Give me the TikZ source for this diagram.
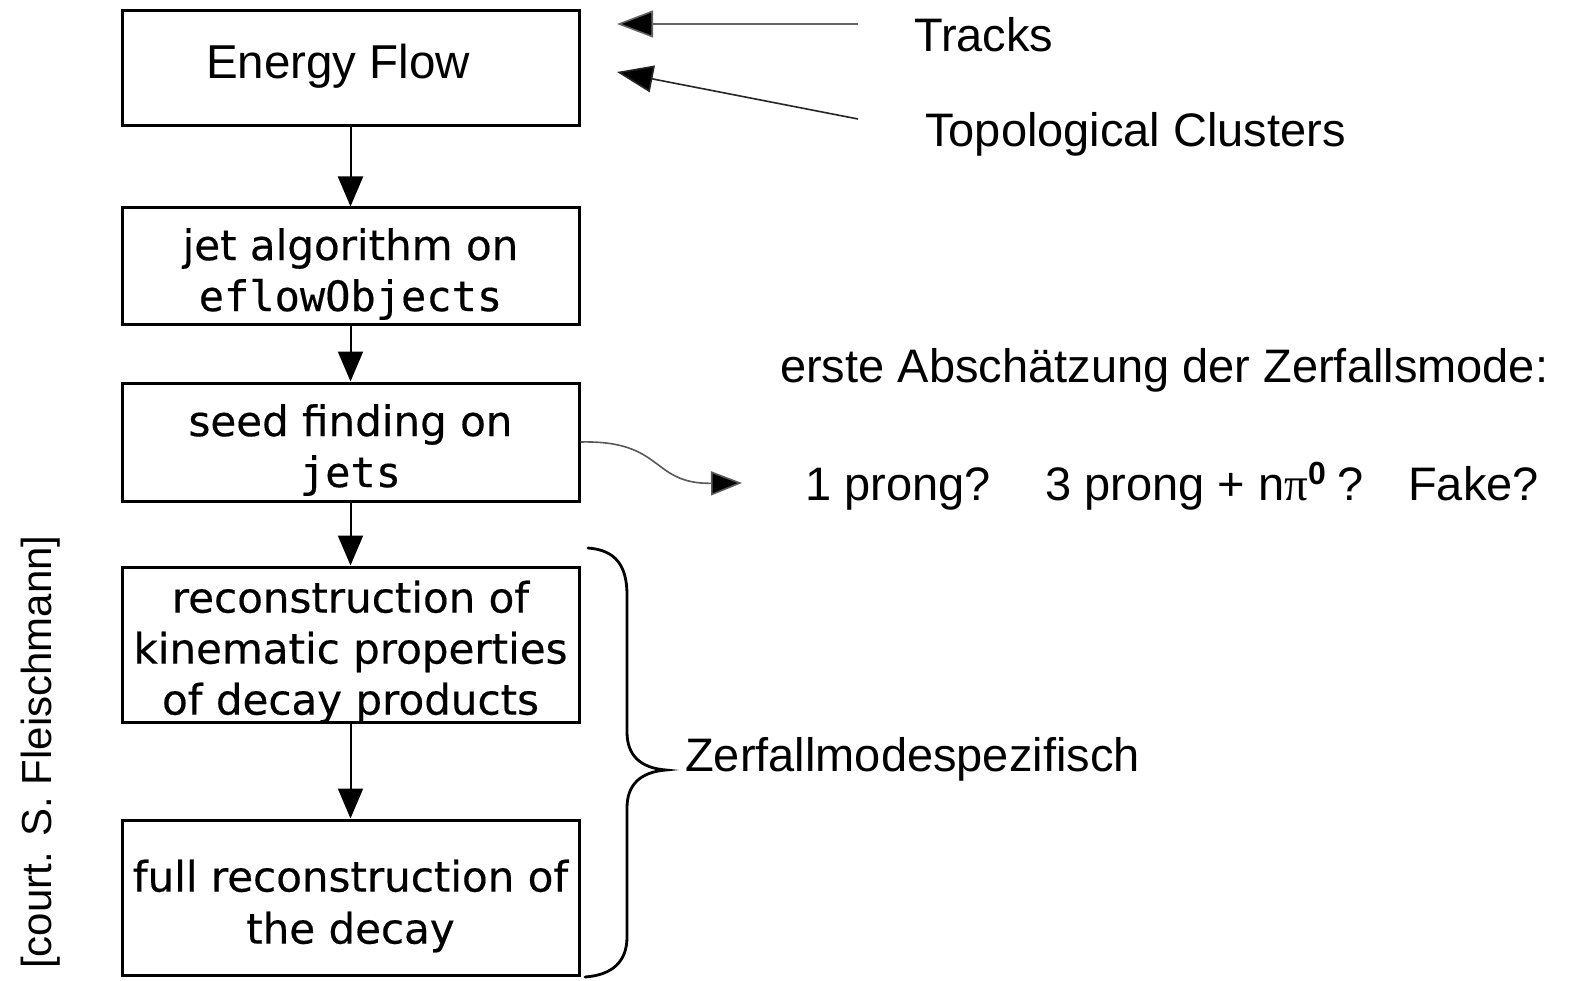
\documentclass[tikz,border=0pt]{standalone}
\usepackage{fontspec}
\setmainfont{Liberation Sans}
\newfontfamily\boxfont[FakeBold=0.4]{DejaVu Sans}
\newfontfamily\boxmono[FakeBold=0.4]{DejaVu Sans Mono}
\newfontfamily\serifpi{Liberation Serif}
\usetikzlibrary{arrows.meta}
\begin{document}
\begin{tikzpicture}[x=1pt,y=-1pt,
  flowbox/.style={draw, line width=3pt, minimum width=457pt, inner sep=0pt},
  boxtext/.style={inner sep=0pt, align=center, font=\boxfont\fontsize{42}{51}\selectfont},
  lbl/.style={font=\fontsize{47}{56}\selectfont, anchor=base west, inner sep=0pt},
  flowarrow/.style={line width=2pt, -{Triangle[length=30pt,width=25pt]}},
  inarrow/.style={line width=1.6pt, -{Triangle[length=36pt,width=27pt,fill=black]}},
  bracestyle/.style={line width=2.8pt, line cap=round}
]
\fill[white] (0,0) rectangle (1570,981);
\useasboundingbox (0,0) rectangle (1570,981);

% boxes
\node[flowbox, minimum height=115pt] (b1) at (350.5,68.5) {};
\node[flowbox, minimum height=116pt] (b2) at (350.5,266) {};
\node[flowbox, minimum height=118pt] (b3) at (350.5,442) {};
\node[flowbox, minimum height=155pt] (b4) at (350.5,644.5) {};
\node[flowbox, minimum height=155pt] (b5) at (350.5,897.5) {};

% box texts
\node[font=\fontsize{47.5}{56}\selectfont, inner sep=0pt] (t1) at (338,66) {Energy Flow};
\node[boxtext] (t2) at (350.5,274) {jet algorithm on\\{\boxmono eflowObjects}};
\node[boxtext] (t3) at (350.5,450) {seed finding on\\{\boxmono jets}};
\node[boxtext] (t4) at (350.5,652) {reconstruction of\\kinematic properties\\of decay products};
\node[boxtext, font=\boxfont\fontsize{42}{52}\selectfont] (t5) at (350.5,906) {full reconstruction of\\the decay};

% vertical arrows
\draw[flowarrow] (b1.south) -- (b2.north);
\draw[flowarrow] (b2.south) -- (b3.north);
\draw[flowarrow] (b3.south) -- (b4.north);
\draw[flowarrow] (b4.south) -- (b5.north);

% inputs
\node[lbl] (tracks) at (914,52) {Tracks};
\node[lbl] (topo) at (925,147) {Topological Clusters};
\coordinate (trs) at (858,24);
\coordinate (tre) at (617,24);
\coordinate (tos) at (858,119);
\coordinate (toe) at (617,72);
\draw[inarrow, draw=black!60] (trs) -- (tre);
\draw[inarrow, draw=black!85] (tos) -- (toe);

% decay mode estimate
\node[lbl] (erste) at (780,382) {erste Absch\"atzung der Zerfallsmode:};
\node[lbl] (p1) at (805,500) {1 prong?};
\node[lbl] (p3) at (1045,500) {3 prong + n{\serifpi π}\raisebox{16pt}{\bfseries\fontsize{32}{32}\selectfont 0}\hspace{12pt}?};
\node[lbl] (fake) at (1408,500) {Fake?};
\coordinate (ctip) at (742,483);
\draw[line width=1.6pt, draw=black!65, -{Triangle[length=31pt,width=24pt,fill=black]}]
  (b3.east) .. controls (665,440) and (650,484) .. (ctip);

% brace
\draw[bracestyle] (588,548) .. controls (615,550) and (627,565) .. (627,595)
  -- (627,732) .. controls (627,755) and (640,768) .. (666,770)
  .. controls (640,772) and (627,785) .. (627,808)
  -- (627,937) .. controls (627,962) and (612,975) .. (585,977);
\node[lbl] (zerf) at (685,771) {Zerfallmodespezifisch};

% credit
\node[font=\fontsize{42}{50}\selectfont, rotate=90, anchor=base, inner sep=0pt] (court) at (51,752) {[court. S. Fleischmann]};
\end{tikzpicture}
\end{document}
